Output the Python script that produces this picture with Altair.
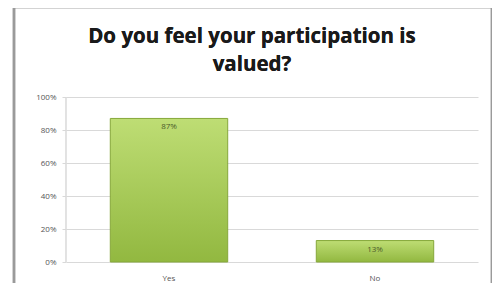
import altair as alt
import pandas as pd

categories = ["Yes", "No"]
values = [0.87, 0.13]
labels = ["87%", "13%"]
tick_values = [0, 0.2, 0.4, 0.6, 0.8, 1.0]
title_lines = ["Do you feel your participation is", "valued?"]

df = pd.DataFrame({"answer": categories, "share": values, "label": labels})

x = alt.X("answer:N", sort=categories, title=None,
          scale=alt.Scale(paddingInner=0.43, paddingOuter=0.215),
          axis=alt.Axis(labelAngle=0, labelFont="Open Sans", labelFontSize=8, labelColor="#555555",
                        ticks=False, domain=False, labelPadding=12))
y = alt.Y("share:Q", title=None,
          scale=alt.Scale(domain=[0, 1]),
          axis=alt.Axis(format="%", values=tick_values, labelOverlap=False,
                        labelFont="Open Sans", labelFontSize=8, labelColor="#555555",
                        gridColor="#d9d9d9", gridWidth=1, domain=False,
                        tickColor="#d9d9d9", tickSize=4, labelPadding=6))

frame = alt.Chart(df).mark_rect(fillOpacity=0, stroke="#9a9a9a", strokeWidth=2.5).encode(
    x=alt.value(-52), x2=alt.value(426), y=alt.value(-90), y2=alt.value(205)
)

bars = alt.Chart(df).mark_bar(
    color=alt.Gradient(gradient="linear", x1=0, x2=0, y1=0, y2=1,
                       stops=[alt.GradientStop(offset=0, color="#bedd74"),
                              alt.GradientStop(offset=1, color="#92b840")]),
    stroke="#86a83a", strokeWidth=1
).encode(x=x, y=y)

text = alt.Chart(df).mark_text(baseline="top", dy=5, font="Open Sans", fontSize=8, color="#4b5a2a").encode(
    x=x, y=y, text="label:N"
)

vline = alt.Chart(df).mark_rule(color="#d9d9d9").encode(
    x=alt.value(0), y=alt.value(0), y2=alt.value(165)
)

t1 = alt.Chart(df).mark_text(text=title_lines[0], font="Open Sans", fontSize=20.5, fontWeight="bold",
                             color="#1a1a1a", align="center", baseline="alphabetic").encode(
    x=alt.value(186), y=alt.value(-54))
t2 = alt.Chart(df).mark_text(text=title_lines[1], font="Open Sans", fontSize=20.5, fontWeight="bold",
                             color="#1a1a1a", align="center", baseline="alphabetic").encode(
    x=alt.value(186), y=alt.value(-26))

chart = alt.layer(vline, bars, text, t1, t2, frame).properties(
    width=412, height=165,
    autosize=alt.AutoSizeParams(type="none"),
    padding={"left": 58, "top": 89, "right": 14, "bottom": 21},
).configure_view(stroke=None)

chart.save("out.html", embed_options={"renderer": "svg", "actions": False})
